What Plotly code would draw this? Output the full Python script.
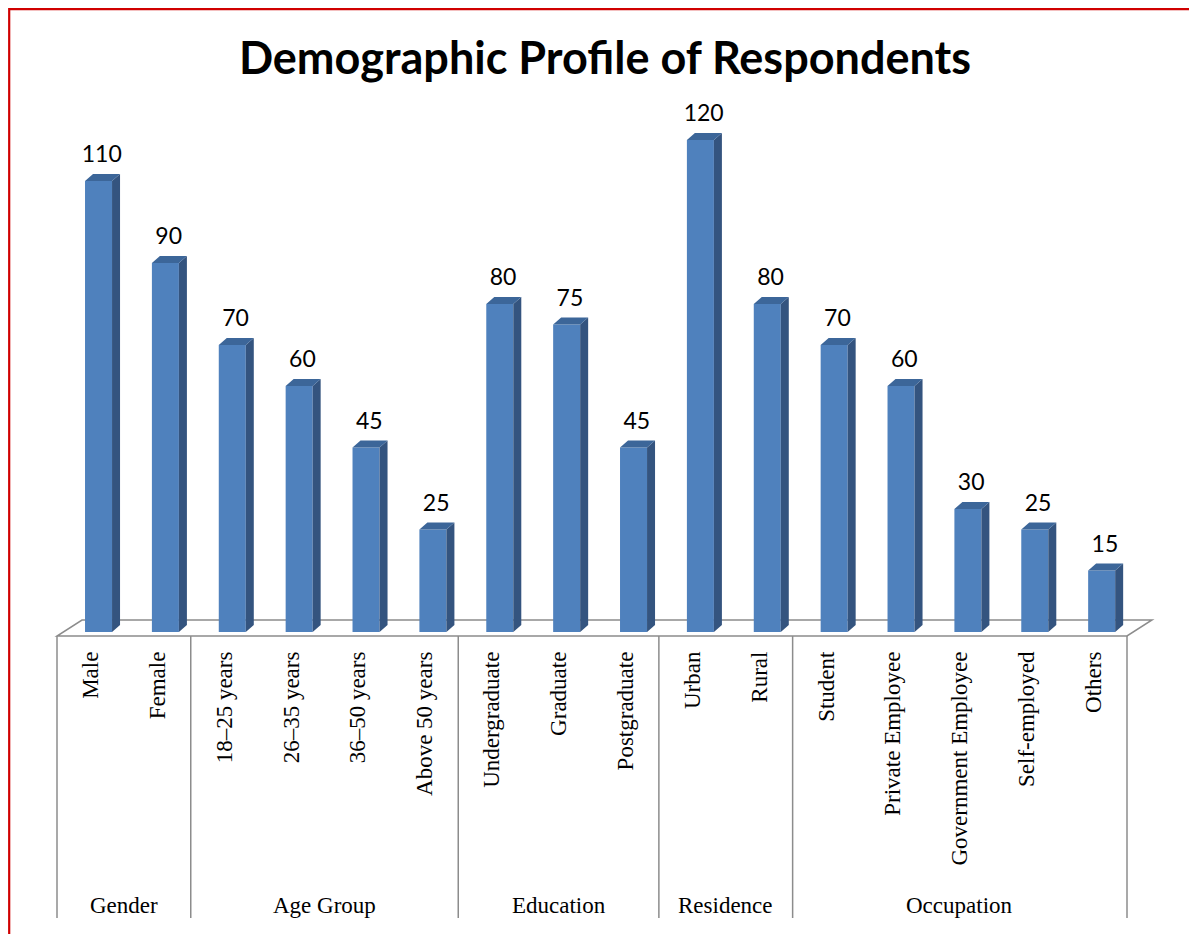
import plotly.graph_objects as go

# data
groups = ["Gender", "Age Group", "Education", "Residence", "Occupation"]
group_sizes = [2, 4, 3, 2, 5]
categories = ["Male", "Female", "18\u201325 years", "26\u201335 years", "36\u201350 years",
              "Above 50 years", "Undergraduate", "Graduate", "Postgraduate", "Urban", "Rural",
              "Student", "Private Employee", "Government Employee", "Self-employed", "Others"]
counts = [110, 90, 70, 60, 45, 25, 80, 75, 45, 120, 80, 70, 60, 30, 25, 15]

W, H = 1197, 934
OFF = 8         # page margin of the html body
PX_X = 66.875   # pixels per category
PX_Y = 4.1      # pixels per respondent
X0, Y0 = 57, 632  # left edge of floor, baseline pixel (as seen on the page)


def vx(px):
    return -0.5 + (px - X0) / PX_X


def vy(py):
    return (Y0 - py) / PX_Y


n = len(categories)
idx = list(range(n))
face_l, face_w = -0.081, 0.404
dx, dy = 8 / PX_X, 7 / PX_Y

FRONT = "#4F81BD"
SIDE = "#34547F"
TOP = "#3C6699"

fig = go.Figure()

fig.add_trace(go.Bar(x=idx, y=counts, width=face_w, offset=face_l,
                     marker=dict(color=FRONT, line=dict(width=0)),
                     hoverinfo="skip"))

# side and top faces of the 3D bars
sx, sy, tx, ty = [], [], [], []
for i, v in zip(idx, counts):
    l = i + face_l
    r = l + face_w
    sx += [r, r + dx, r + dx, r, r, None]
    sy += [0, dy, v + dy, v, 0, None]
    tx += [l, r, r + dx, l + dx, l, None]
    ty += [v, v, v + dy, v + dy, v, None]
fig.add_trace(go.Scatter(x=sx, y=sy, fill="toself", fillcolor=SIDE, mode="lines",
                         line=dict(width=0, color=SIDE), hoverinfo="skip"))
fig.add_trace(go.Scatter(x=tx, y=ty, fill="toself", fillcolor=TOP, mode="lines",
                         line=dict(width=0, color=TOP), hoverinfo="skip"))

# value labels
fig.add_trace(go.Scatter(x=[i + 0.17 for i in idx], y=[v + 3.2 for v in counts],
                         mode="text", text=[str(v) for v in counts],
                         textposition="top center",
                         textfont=dict(family="Lato", size=23, color="black"),
                         hoverinfo="skip"))

# floor
fl, fr = -0.5, n - 0.5
fy, by = vy(636), vy(620)
bdx = 25 / PX_X
fig.add_shape(type="path", xref="x", yref="y", layer="below",
              path=f"M {fl},{fy} L {fr},{fy} L {fr + bdx},{by} L {fl + bdx},{by} Z",
              line=dict(color="#8C8C8C", width=1.5), fillcolor="rgba(0,0,0,0)")

# group dividers and labels
edges = [-0.5]
for s in group_sizes:
    edges.append(edges[-1] + s)
for e in edges:
    fig.add_shape(type="line", xref="x", yref="y", x0=e, x1=e, y0=fy, y1=vy(918),
                  line=dict(color="#8C8C8C", width=1.5))
for g, a, b in zip(groups, edges[:-1], edges[1:]):
    fig.add_annotation(x=(a + b) / 2, y=vy(905), text=g, showarrow=False,
                       xanchor="center", yanchor="middle",
                       font=dict(family="Liberation Serif", size=23, color="black"))

# red frame
fig.add_shape(type="rect", xref="x", yref="y", x0=vx(9.2), x1=vx(1215), y0=vy(950), y1=vy(9.2),
              line=dict(color="#D00000", width=2.2), fillcolor="rgba(0,0,0,0)")

fig.update_layout(
    width=W, height=H,
    margin=dict(l=0, r=0, t=0, b=0),
    paper_bgcolor="white", plot_bgcolor="white",
    showlegend=False,
    title=dict(text="<b>Demographic Profile of Respondents</b>",
               x=(605 - OFF) / W, y=1 - (58 - OFF) / H,
               xanchor="center", yanchor="middle",
               font=dict(family="Lato", size=45, color="black")),
    xaxis=dict(range=[vx(OFF), vx(W + OFF)], tickvals=idx, ticktext=categories,
               tickangle=-90, showgrid=False, zeroline=False, showline=False, ticks="",
               anchor="free", position=(H + OFF - 636) / H, ticklabelstandoff=10,
               tickfont=dict(family="Liberation Serif", size=23, color="black")),
    yaxis=dict(range=[vy(H + OFF), vy(OFF)], showgrid=False, zeroline=False,
               showline=False, showticklabels=False, ticks=""),
)

fig.write_html("out.html", config={"displayModeBar": False})
